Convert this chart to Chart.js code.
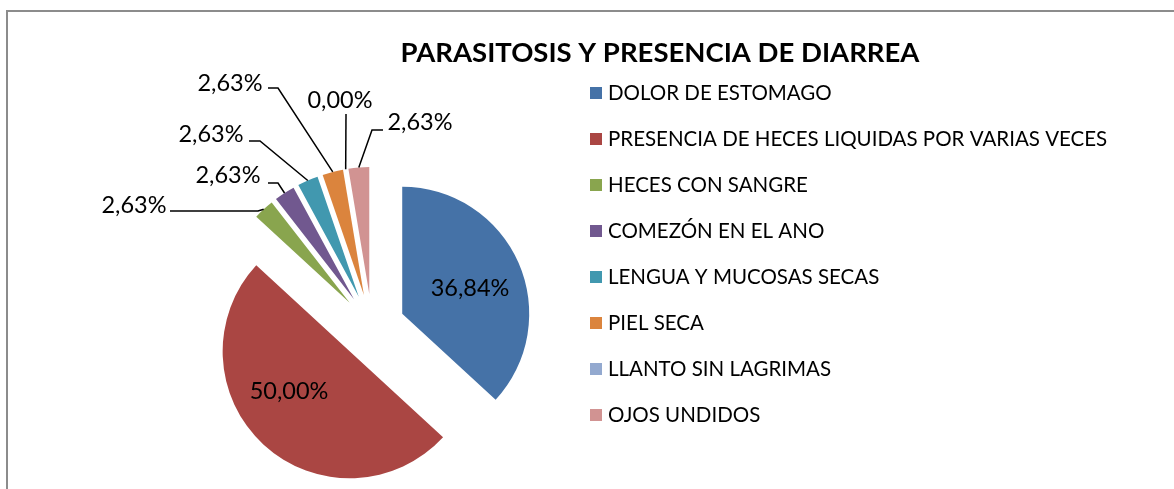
<!DOCTYPE html>
<html>
<head>
<meta charset="utf-8">
<script src="https://cdn.jsdelivr.net/npm/chart.js@4/dist/chart.umd.min.js"></script>
<style>
  html, body { margin: 0; padding: 0; background: #fff; }
  #wrap { position: relative; width: 1174px; height: 489px; }
</style>
</head>
<body>
<div id="wrap"><canvas id="chart" width="1174" height="489"></canvas></div>
<script>
const chartTitle = 'PARASITOSIS Y PRESENCIA DE DIARREA';
const categories = [
    'DOLOR DE ESTOMAGO',
    'PRESENCIA DE HECES LIQUIDAS POR VARIAS VECES',
    'HECES CON SANGRE',
    'COMEZÓN EN EL ANO',
    'LENGUA Y MUCOSAS SECAS',
    'PIEL SECA',
    'LLANTO SIN LAGRIMAS',
    'OJOS UNDIDOS'
];
const percentages = [36.84, 50.00, 2.63, 2.63, 2.63, 2.63, 0.00, 2.63];
const colors = ['#4572A7', '#AA4643', '#89A54E', '#71588F', '#4198AF', '#DB843D', '#93A9CF', '#D19392'];

// how far each slice is pulled out of the pie, px
const explode = 33;
const FONT = 'Lato, "Open Sans", sans-serif';

// label placement: text centre; thin slices also get a leader (start, elbow)
const labelSpots = [
    { tx: 470, ty: 288 },
    { tx: 289, ty: 391 },
    { tx: 134, ty: 205, sx: 170, sy: 211, ex: 258, ey: 211 },
    { tx: 228, ty: 175, sx: 268, sy: 183, ex: 278, ey: 183 },
    { tx: 211, ty: 134, sx: 249, sy: 141, ex: 260, ey: 141 },
    { tx: 230, ty: 83, sx: 268, sy: 88, ex: 278, ey: 88 },
    { tx: 340, ty: 100, sx: 346, sy: 114, ex: 346, ey: 114 },
    { tx: 420, ty: 122, sx: 383, sy: 130, ex: 372, ey: 130 }
];

const fmt = v => v.toFixed(2).replace('.', ',') + '%';

// pull each arc out along its bisector, like an exploded Excel pie
const explodePlugin = {
    id: 'explode',
    afterDatasetUpdate(chart, args) {
        args.meta.data.forEach(arc => {
            const mid = (arc.startAngle + arc.endAngle) / 2;
            arc.x += Math.cos(mid) * explode;
            arc.y += Math.sin(mid) * explode;
        });
    }
};

const decor = {
    id: 'decor',
    beforeDraw(chart) {
        const ctx = chart.ctx;
        ctx.save();
        ctx.fillStyle = '#fff';
        ctx.fillRect(0, 0, chart.width, chart.height);
        ctx.strokeStyle = '#8c8c8c';
        ctx.lineWidth = 2;
        ctx.beginPath();
        ctx.moveTo(7, chart.height);
        ctx.lineTo(7, 11);
        ctx.lineTo(chart.width, 11);
        ctx.stroke();
        ctx.restore();
    },
    afterDraw(chart) {
        const ctx = chart.ctx;
        ctx.save();
        ctx.fillStyle = '#000';
        ctx.textBaseline = 'middle';

        // title
        ctx.font = 'bold 27.5px ' + FONT;
        ctx.textAlign = 'center';
        ctx.fillText(chartTitle, 660, 53);

        // legend
        ctx.font = '20.5px ' + FONT;
        ctx.textAlign = 'left';
        chart.data.labels.forEach((lab, i) => {
            const y = 93 + i * 46;
            ctx.fillStyle = colors[i];
            ctx.fillRect(590, y - 6, 12, 12);
            ctx.fillStyle = '#000';
            ctx.fillText(lab, 608, y);
        });

        // data labels
        const meta = chart.getDatasetMeta(0);
        ctx.font = '23.5px ' + FONT;
        ctx.textAlign = 'center';
        ctx.strokeStyle = '#000';
        ctx.lineWidth = 1.5;
        meta.data.forEach((arc, i) => {
            const spot = labelSpots[i];
            ctx.fillText(fmt(percentages[i]), spot.tx, spot.ty);
            if (spot.sx === undefined) return;
            const mid = (arc.startAngle + arc.endAngle) / 2;
            const r = arc.outerRadius;
            ctx.beginPath();
            ctx.moveTo(spot.sx, spot.sy);
            ctx.lineTo(spot.ex, spot.ey);
            ctx.lineTo(arc.x + Math.cos(mid) * r, arc.y + Math.sin(mid) * r);
            ctx.stroke();
        });
        ctx.restore();
    }
};

new Chart(document.getElementById('chart'), {
    type: 'pie',
    data: {
        labels: categories,
        datasets: [{
            data: percentages,
            backgroundColor: colors,
            borderWidth: 0,
            radius: 127
        }]
    },
    options: {
        responsive: false,
        animation: false,
        events: [],
        layout: { padding: { left: 172, right: 602, top: 187, bottom: 22 } },
        plugins: {
            legend: { display: false },
            title: { display: false },
            tooltip: { enabled: false }
        }
    },
    plugins: [explodePlugin, decor]
});
</script>
</body>
</html>
